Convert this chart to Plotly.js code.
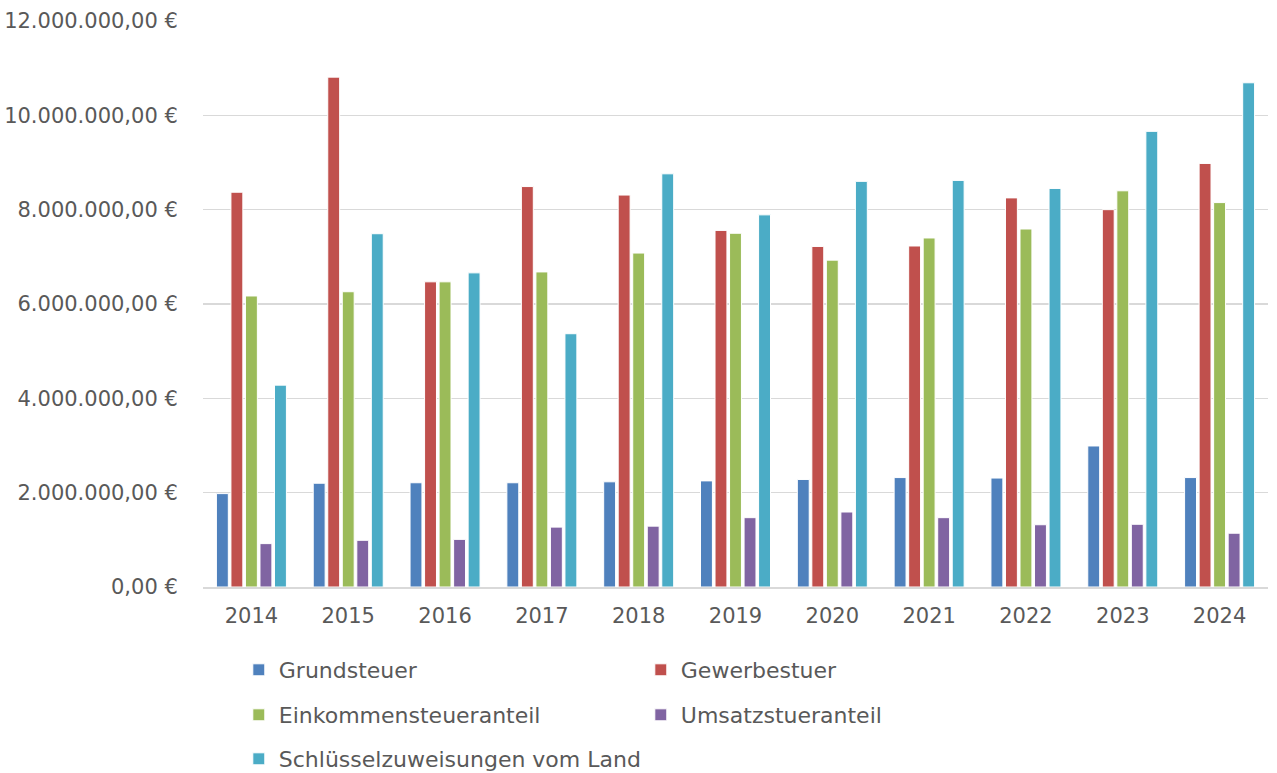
<!DOCTYPE html>
<html>
<head>
<meta charset="utf-8">
<script src="https://cdn.plot.ly/plotly-3.0.1.min.js"></script>
<style>html,body{margin:0;padding:0;background:#fff;}#chart{width:1277px;height:773px;}</style>
</head>
<body>
<div id="chart"></div>
<script>
const years = ['2014','2015','2016','2017','2018','2019','2020','2021','2022','2023','2024'];
const grundsteuer = [1980000, 2200000, 2210000, 2210000, 2230000, 2250000, 2280000, 2320000, 2310000, 2990000, 2320000];
const gewerbesteuer = [8370000, 10810000, 6470000, 8490000, 8310000, 7560000, 7220000, 7230000, 8250000, 8000000, 8980000];
const einkommensteuer = [6170000, 6260000, 6470000, 6680000, 7080000, 7500000, 6930000, 7400000, 7590000, 8400000, 8150000];
const umsatzsteuer = [920000, 990000, 1010000, 1270000, 1290000, 1470000, 1590000, 1470000, 1320000, 1330000, 1140000];
const schluessel = [4280000, 7490000, 6660000, 5370000, 8760000, 7890000, 8600000, 8620000, 8450000, 9660000, 10690000];
const yTickVals = [0, 2000000, 4000000, 6000000, 8000000, 10000000, 12000000];
const yTickText = ['0,00 \u20AC', '2.000.000,00 \u20AC', '4.000.000,00 \u20AC', '6.000.000,00 \u20AC', '8.000.000,00 \u20AC', '10.000.000,00 \u20AC', '12.000.000,00 \u20AC'];
const seriesNames = ['Grundsteuer','Gewerbestuer','Einkommensteueranteil','Umsatzstueranteil','Schl\u00FCsselzuweisungen vom Land'];
const seriesColors = ['#4F81BD','#C0504D','#9BBB59','#8064A2','#4BACC6'];
const seriesData = [grundsteuer, gewerbesteuer, einkommensteuer, umsatzsteuer, schluessel];
const legendIds = ['legend','legend','legend2','legend2','legend3'];

const font = "'DejaVu Sans', 'Open Sans', sans-serif";
const traces = seriesData.map((d, i) => ({
  type: 'bar',
  name: seriesNames[i],
  x: years,
  y: d,
  legend: legendIds[i],
  marker: {color: seriesColors[i], line: {color: '#ffffff', width: 1}},
  hoverinfo: 'skip'
}));

const legendBase = (yc) => ({
  orientation: 'h',
  xref: 'container', yref: 'container',
  x: 0.187, y: yc, xanchor: 'left', yanchor: 'middle',
  entrywidth: 357, entrywidthmode: 'pixels',
  font: {family: font, size: 22, color: '#595959'},
  bgcolor: 'rgba(0,0,0,0)',
  itemclick: false, itemdoubleclick: false
});

const layout = {
  width: 1277, height: 773,
  margin: {l: 203, r: 9, t: 21, b: 186},
  paper_bgcolor: '#ffffff', plot_bgcolor: '#ffffff',
  barmode: 'group',
  bargap: 0.25,
  bargroupgap: 0.18,
  font: {family: font, color: '#595959'},
  xaxis: {
    type: 'category',
    showgrid: false,
    showline: true, linecolor: '#D9D9D9', linewidth: 1.5,
    ticks: 'outside', ticklen: 9, tickcolor: 'rgba(0,0,0,0)',
    tickfont: {family: font, size: 21, color: '#595959'},
    fixedrange: true
  },
  yaxis: {
    range: [0, 12000000],
    tickmode: 'array',
    tickvals: yTickVals,
    ticktext: yTickText,
    showgrid: true, gridcolor: '#D9D9D9', gridwidth: 1.5,
    zeroline: false, showline: false,
    ticks: 'outside', ticklen: 20, tickcolor: 'rgba(0,0,0,0)',
    tickfont: {family: font, size: 21, color: '#595959'},
    fixedrange: true
  },
  legend: legendBase(1 - 670/773),
  legend2: legendBase(1 - 715/773),
  legend3: legendBase(1 - 759/773),
  showlegend: true
};

Plotly.newPlot('chart', traces, layout, {displayModeBar: false, staticPlot: true});
</script>
</body>
</html>
